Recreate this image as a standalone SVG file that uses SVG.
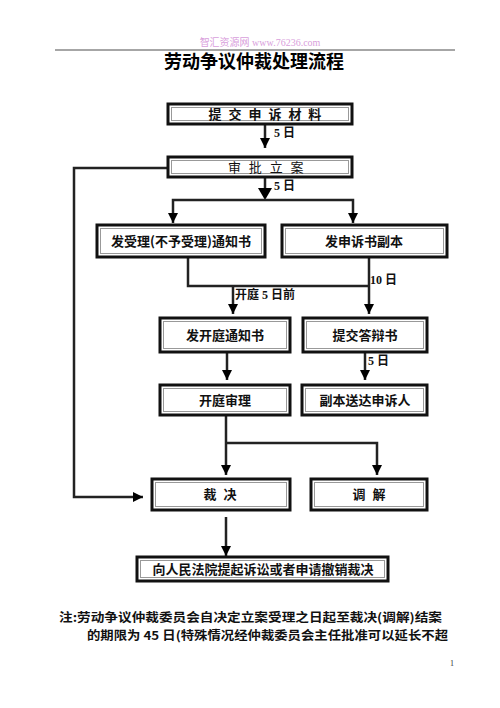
<svg xmlns="http://www.w3.org/2000/svg" width="500" height="708" viewBox="0 0 500 708">
<defs>
<marker id="ah" viewBox="0 0 10 10" refX="10" refY="5" markerWidth="4" markerHeight="4" orient="auto" markerUnits="strokeWidth">
<path d="M0,0 L10,5 L0,10 Z" fill="#000"/>
</marker>
<style>
.bo{fill:#fff;stroke:#111;stroke-width:3}
.bi{fill:none;stroke:#999;stroke-width:1}
.t{font-family:"Noto Sans CJK SC","Liberation Sans",sans-serif;font-size:13px;fill:#111;text-anchor:middle;font-weight:bold}
.c{fill:none;stroke:#222;stroke-width:2.5}
.ca{fill:none;stroke:#222;stroke-width:2.5;marker-end:url(#ah)}
.l{font-family:"Liberation Serif","Noto Sans CJK SC",serif;font-size:12px;font-weight:bold;fill:#111}
.n{font-family:"Noto Sans CJK SC",sans-serif;font-size:12px;font-weight:bold;fill:#111}
</style>
</defs>
<rect width="500" height="708" fill="#fff"/>
<text x="260" y="46" font-family="Liberation Serif,Noto Sans CJK SC,serif" font-size="10" fill="#d9a0dc" text-anchor="middle">智汇资源网 www.76236.com</text>
<line x1="55" y1="50" x2="455" y2="50" stroke="#888" stroke-width="1.5"/>
<text x="254" y="68" font-family="Noto Sans CJK SC,sans-serif" font-size="18" font-weight="bold" fill="#000" text-anchor="middle">劳动争议仲裁处理流程</text>

<g id="connectors">
<line class="ca" x1="265" y1="124" x2="265" y2="148"/>
<path class="ca" d="M167,168 H74 V497 H143"/>
<line class="c" x1="265" y1="177" x2="265" y2="190"/>
<path d="M258,188 L272,188 L265,200 Z" fill="#000"/>
<path class="ca" d="M173,201 V200 H353 V223"/>
<path class="ca" d="M173,201 V223"/>
<path class="c" d="M188,257 V286 H369"/>
<line class="ca" x1="369" y1="257" x2="369" y2="314"/>
<line class="ca" x1="233" y1="286" x2="233" y2="314"/>
<line class="ca" x1="227" y1="352" x2="227" y2="380"/>
<line class="ca" x1="365" y1="352" x2="365" y2="380"/>
<line class="ca" x1="226" y1="415" x2="226" y2="475"/>
<path class="ca" d="M226,443 H377 V475"/>
<line class="ca" x1="226" y1="517" x2="226" y2="556"/>
</g>
<g id="labels">
<text class="l" x="274" y="137">5 <tspan font-family="Noto Sans CJK SC,sans-serif">日</tspan></text>
<text class="l" x="274" y="190">5 <tspan font-family="Noto Sans CJK SC,sans-serif">日</tspan></text>
<text class="l" x="370" y="284">10 <tspan font-family="Noto Sans CJK SC,sans-serif">日</tspan></text>
<text class="l" x="235" y="299"><tspan font-family="Noto Sans CJK SC,sans-serif">开庭</tspan> 5 <tspan font-family="Noto Sans CJK SC,sans-serif">日前</tspan></text>
<text class="l" x="368" y="365">5 <tspan font-family="Noto Sans CJK SC,sans-serif">日</tspan></text>
</g>

<g id="n1"><rect class="bo" x="168" y="104" width="184" height="20"/><rect class="bi" x="171.5" y="107.5" width="177" height="13"/><text class="t" x="266" y="119" letter-spacing="2">提 交 申 诉 材 料</text></g>
<g id="n2"><rect class="bo" x="168" y="157" width="184" height="20"/><rect class="bi" x="171.5" y="160.5" width="177" height="13"/><text class="t" x="267" y="172" style="font-weight:normal" letter-spacing="2.5">审 批 立 案</text></g>
<g id="n3"><rect class="bo" x="97" y="225" width="168" height="32"/><rect class="bi" x="100.5" y="228.5" width="161" height="25"/><text class="t" x="181" y="246">发受理(不予受理)通知书</text></g>
<g id="n4"><rect class="bo" x="282" y="225" width="165" height="32"/><rect class="bi" x="285.5" y="228.5" width="158" height="25"/><text class="t" x="364" y="246">发申诉书副本</text></g>
<g id="n5"><rect class="bo" x="160" y="318" width="130" height="34"/><rect class="bi" x="163.5" y="321.5" width="123" height="27"/><text class="t" x="225" y="340">发开庭通知书</text></g>
<g id="n6"><rect class="bo" x="303" y="318" width="124" height="34"/><rect class="bi" x="306.5" y="321.5" width="117" height="27"/><text class="t" x="365" y="340">提交答辩书</text></g>
<g id="n7"><rect class="bo" x="160" y="385" width="130" height="30"/><rect class="bi" x="163.5" y="388.5" width="123" height="23"/><text class="t" x="225" y="405">开庭审理</text></g>
<g id="n8"><rect class="bo" x="302" y="385" width="125" height="30"/><rect class="bi" x="305.5" y="388.5" width="118" height="23"/><text class="t" x="365" y="405">副本送达申诉人</text></g>
<g id="n9"><rect class="bo" x="152" y="479" width="138" height="31"/><rect class="bi" x="155.5" y="482.5" width="131" height="24"/><text class="t" x="221" y="499" letter-spacing="2">裁 决</text></g>
<g id="n10"><rect class="bo" x="311" y="479" width="116" height="31"/><rect class="bi" x="314.5" y="482.5" width="109" height="24"/><text class="t" x="370" y="499" letter-spacing="2">调 解</text></g>
<g id="n11"><rect class="bo" x="137" y="557" width="251" height="24"/><rect class="bi" x="140.5" y="560.5" width="244" height="17"/><text class="t" x="263" y="574">向人民法院提起诉讼或者申请撤销裁决</text></g>

<text class="n" x="59" y="622" textLength="383" lengthAdjust="spacingAndGlyphs">注:劳动争议仲裁委员会自决定立案受理之日起至裁决(调解)结案</text>
<text class="n" x="87" y="640" textLength="361" lengthAdjust="spacingAndGlyphs">的期限为 45 日(特殊情况经仲裁委员会主任批准可以延长不超</text>
<text x="452" y="666" font-family="Liberation Serif,serif" font-size="8" fill="#333" text-anchor="middle">1</text>
</svg>
